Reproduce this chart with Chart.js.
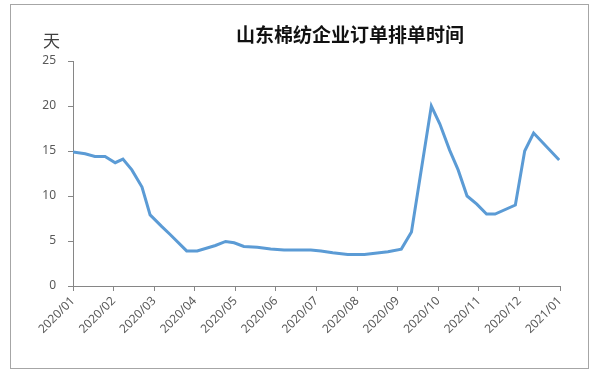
<!DOCTYPE html>
<html>
<head>
	<title>山东棉纺企业订单排单时间</title>
	<script src="https://cdn.jsdelivr.net/npm/chart.js"></script>
	<style>
		body { margin: 0; background: #fff; }
		#wrap { position: relative; width: 603px; height: 376px; }
		#frame { position: absolute; left: 10px; top: 4px; width: 579px; height: 365px; border: 1px solid #a6a6a6; box-sizing: border-box; }
		#title { position: absolute; left: 0; width: 700px; top: 20px; text-align: center; font: bold 19px "Noto Sans CJK SC", sans-serif; color: #111; }
		#unit { position: absolute; left: 43px; top: 27px; font: 17px "Noto Sans CJK SC", sans-serif; color: #404040; }
		canvas { position: absolute; left: 0; top: 0; }
	</style>
</head>
<body>
<div id="wrap">
	<div id="frame"></div>
	<canvas id="orderChart" width="603" height="376"></canvas>
	<div id="title">山东棉纺企业订单排单时间</div>
	<div id="unit">天</div>
</div>
<script>
	// x position in months from 2020/01, order days
	var monthPos = [0, 0.3, 0.54, 0.79, 1.04, 1.23, 1.45, 1.7, 1.9, 2.19, 2.4, 2.8, 3.06, 3.51, 3.76, 3.97,
		4.21, 4.54, 4.87, 5.2, 5.53, 5.86, 6.11, 6.4, 6.77, 7.18, 7.76, 8.09, 8.34, 8.83, 9.04, 9.28,
		9.49, 9.71, 9.95, 10.19, 10.4, 10.9, 11.13, 11.35, 11.98];
	var days = [14.9, 14.7, 14.4, 14.4, 13.7, 14.1, 12.9, 11.0, 7.9, 6.6, 5.7, 3.9, 3.9, 4.5, 4.95, 4.8,
		4.4, 4.3, 4.1, 4.0, 4.0, 4.0, 3.9, 3.7, 3.5, 3.5, 3.8, 4.1, 6.0, 20.0, 18.0, 15.1,
		12.9, 10.0, 9.1, 8.0, 8.0, 9.0, 15.0, 17.0, 14.0];
	var monthLabels = ['2020/01', '2020/02', '2020/03', '2020/04', '2020/05', '2020/06', '2020/07',
		'2020/08', '2020/09', '2020/10', '2020/11', '2020/12', '2021/01'];

	var points = monthPos.map(function (m, i) { return { x: m, y: days[i] }; });

	var tickFont = { family: '"Noto Sans", sans-serif', size: 12 };

	var ctx = document.getElementById('orderChart').getContext('2d');
	var chart = new Chart(ctx, {
		type: 'line',
		data: {
			datasets: [{
				data: points,
				borderColor: '#5b9bd5',
				borderWidth: 3,
				pointRadius: 0,
				tension: 0,
				fill: false
			}]
		},
		options: {
			responsive: false,
			animation: false,
			layout: { padding: { left: 0, top: 61, right: 43, bottom: 0 } },
			plugins: { legend: { display: false }, tooltip: { enabled: false } },
			scales: {
				x: {
					type: 'linear',
					min: 0,
					max: 12,
					afterFit: function (s) { s.height = 90; },
					afterBuildTicks: function (s) {
						s.ticks = monthLabels.map(function (l, i) { return { value: i }; });
					},
					ticks: {
						callback: function (v) { return monthLabels[v]; },
						minRotation: 45,
						maxRotation: 45,
						color: '#595959',
						font: tickFont,
						padding: 3
					},
					grid: { drawOnChartArea: false, tickLength: 5, color: '#868686' },
					border: { color: '#868686' }
				},
				y: {
					min: 0,
					max: 25,
					afterFit: function (s) { s.width = 73; },
					ticks: { stepSize: 5, color: '#595959', font: tickFont, padding: 12 },
					grid: { drawOnChartArea: false, tickLength: 5, color: '#868686' },
					border: { color: '#868686' }
				}
			}
		}
	});
</script>
</body>
</html>
